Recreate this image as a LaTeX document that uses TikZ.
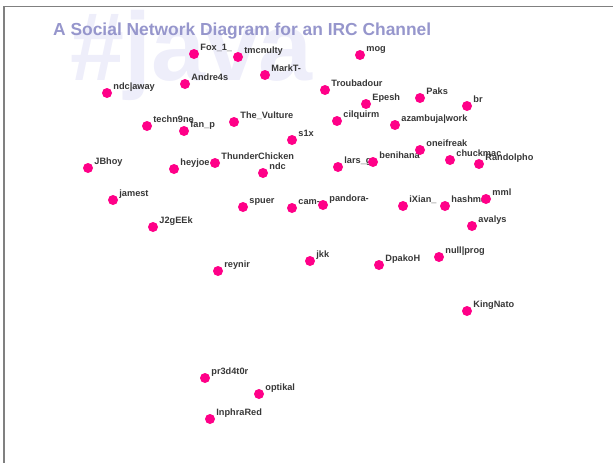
\documentclass[tikz,border=0pt]{standalone}
\usepackage{fontspec}
\setmainfont{Liberation Sans}
\definecolor{dotpink}{RGB}{255,0,136}
\definecolor{titleblue}{RGB}{150,150,204}
\definecolor{markfaint}{RGB}{238,238,250}
\definecolor{nickgray}{RGB}{55,55,55}
\tikzset{
    user/.style={circle, fill=dotpink, inner sep=0pt, minimum size=10pt},
    nick/.style={anchor=base west, xshift=1pt, yshift=4pt, inner sep=0pt, font=\fontsize{9.2}{9.2}\selectfont\bfseries, text=nickgray},
}
\begin{document}
\begin{tikzpicture}[x=1pt,y=-1pt]
        \useasboundingbox (0,0) rectangle (613,463);
        \node[anchor=base west, inner sep=0pt, text=markfaint, font=\fontsize{97}{97}\selectfont\bfseries] (mark) at (70,80) {\#java};
        \node[anchor=base west, inner sep=0pt, text=titleblue, font=\fontsize{17.4}{17.4}\selectfont\bfseries] (title) at (53,35) {A Social Network Diagram for an IRC Channel};
        \draw[gray, line width=1.3pt] (4,463) -- (4,6.5) -- (613,6.5);

        \node[user, label={[nick]0:Fox\_1\_}] (fox) at (194,54) {};
        \node[user, label={[nick]0:tmcnulty}] (tmcnulty) at (238,57) {};
        \node[user, label={[nick]0:MarkT-}] (markt) at (265,75) {};
        \node[user, label={[nick]0:mog}] (mog) at (360,55) {};
        \node[user, label={[nick]0:Andre4s}] (andre) at (185,84) {};
        \node[user, label={[nick]0:ndc|away}] (ndcaway) at (107,93) {};
        \node[user, label={[nick]0:Troubadour}] (troubadour) at (325,90) {};
        \node[user, label={[nick]0:Epesh}] (epesh) at (366,104) {};
        \node[user, label={[nick]0:Paks}] (paks) at (420,98) {};
        \node[user, label={[nick]0:br}] (br) at (467,106) {};
        \node[user, label={[nick]0:cilquirm}] (cilquirm) at (337,121) {};
        \node[user, label={[nick]0:azambuja|work}] (azambuja) at (395,125) {};
        \node[user, label={[nick]0:techn9ne}] (techn) at (147,126) {};
        \node[user, label={[nick]0:fan\_p}] (fanp) at (184,131) {};
        \node[user, label={[nick]0:The\_Vulture}] (vulture) at (234,122) {};
        \node[user, label={[nick]0:s1x}] (six) at (292,140) {};
        \node[user, label={[nick]0:JBhoy}] (jbhoy) at (88,168) {};
        \node[user, label={[nick]0:heyjoe}] (heyjoe) at (174,169) {};
        \node[user, label={[nick]0:ThunderChicken}] (thunder) at (215,163) {};
        \node[user, label={[nick]0:ndc}] (ndc) at (263,173) {};
        \node[user, label={[nick]0:lars\_g}] (larsg) at (338,167) {};
        \node[user, label={[nick]0:benihana}] (benihana) at (373,162) {};
        \node[user, label={[nick]0:oneifreak}] (oneifreak) at (420,150) {};
        \node[user, label={[nick]0:chuckmac}] (chuckmac) at (450,160) {};
        \node[user, label={[nick]0:Randolpho}] (randolpho) at (479,164) {};
        \node[user, label={[nick]0:jamest}] (jamest) at (113,200) {};
        \node[user, label={[nick]0:spuer}] (spuer) at (243,207) {};
        \node[user, label={[nick]0:cam-}] (cam) at (292,208) {};
        \node[user, label={[nick]0:pandora-}] (pandora) at (323,205) {};
        \node[user, label={[nick]0:iXian\_}] (ixian) at (403,206) {};
        \node[user, label={[nick]0:hashmal}] (hashmal) at (445,206) {};
        \node[user, label={[nick]0:mml}] (mml) at (486,199) {};
        \node[user, label={[nick]0:avalys}] (avalys) at (472,226) {};
        \node[user, label={[nick]0:J2gEEk}] (jgeek) at (153,227) {};
        \node[user, label={[nick]0:reynir}] (reynir) at (218,271) {};
        \node[user, label={[nick]0:jkk}] (jkk) at (310,261) {};
        \node[user, label={[nick]0:DpakoH}] (dpakoh) at (379,265) {};
        \node[user, label={[nick]0:null|prog}] (nullprog) at (439,257) {};
        \node[user, label={[nick]0:KingNato}] (kingnato) at (467,311) {};
        \node[user, label={[nick]0:pr3d4t0r}] (predator) at (205,378) {};
        \node[user, label={[nick]0:optikal}] (optikal) at (259,394) {};
        \node[user, label={[nick]0:InphraRed}] (inphrared) at (210,419) {};
    \end{tikzpicture}
\end{document}
